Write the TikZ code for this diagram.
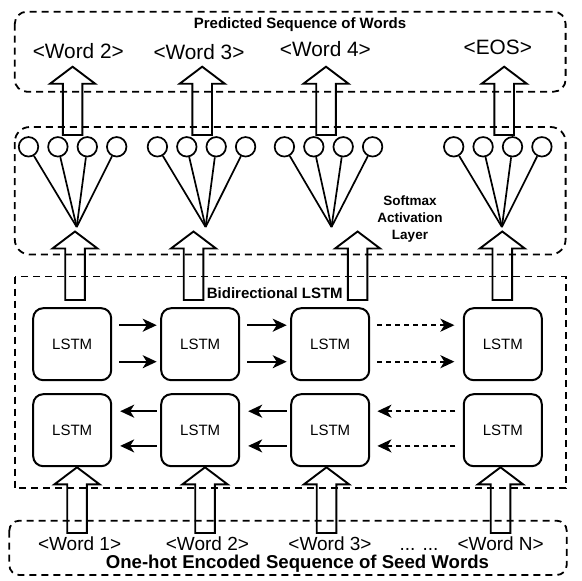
\documentclass[tikz,border=0pt]{standalone}
\usepackage{fontspec}
\setmainfont{Liberation Sans}
\usetikzlibrary{arrows.meta,positioning}

\tikzset{
  grpbox/.style={draw, line width=1.8pt, dash pattern=on 7pt off 5pt},
  lstm/.style={draw, line width=2pt, rounded corners=10pt, minimum width=78pt,
    minimum height=72pt, inner sep=0pt, font=\fontsize{15}{18}\selectfont},
  unit/.style={draw, circle, line width=1.7pt, minimum size=19.5pt, inner sep=0pt},
  flow/.style={line width=2pt, -{Stealth[length=14pt,width=13pt,inset=4pt]}},
  dflow/.style={flow, dash pattern=on 5pt off 4pt},
  fatarrow/.style={draw, line width=1.9pt, line join=miter},
  bigword/.style={anchor=base, inner sep=0pt, font=\fontsize{20.8}{25}\selectfont},
  seedword/.style={anchor=base, inner sep=0pt, font=\fontsize{19}{23}\selectfont},
  caption/.style={anchor=base, inner sep=0pt, font=\bfseries\fontsize{15}{18}\selectfont}
}

\begin{document}
\begin{tikzpicture}[x=1pt, y=-1pt]
  \useasboundingbox (0,0) rectangle (582,581);
  \def\hw{22.5}
  \def\sw{9.8}
  \def\hl{17}

  % group boxes
  \draw[grpbox, rounded corners=12pt] (14.8,11.7) rectangle (565.6,91.7);
  \draw[grpbox, rounded corners=15pt] (14.8,127) rectangle (565.6,254.5);
  \draw[grpbox] (14.8,276.5) rectangle (565.6,488.3);
  \draw[grpbox, rounded corners=10pt] (9.3,520.7) rectangle (566.7,575);

  % labels
  \node[caption] (pred) at (300,28.5) {Predicted Sequence of Words};
  \node[caption] (bidi) at (274.8,298) {Bidirectional LSTM};
  \node[align=center, inner sep=0pt, font=\bfseries\fontsize{13.5}{17}\selectfont] (soft) at (410,219.5) {Softmax\\Activation\\Layer};
  \node[anchor=base, inner sep=0pt, font=\bfseries\fontsize{18.6}{22}\selectfont] (seed) at (297.4,568.5) {One-hot Encoded Sequence of Seed Words};

  \node[bigword] (o1) at (78.3,58.8) {<Word 2>};
  \node[bigword] (o2) at (199,59.1) {<Word 3>};
  \node[bigword] (o3) at (325.4,56.4) {<Word 4>};
  \node[bigword] (o4) at (497.8,54.4) {<EOS>};

  \node[seedword] (w1) at (79.6,550.5) {<Word 1>};
  \node[seedword] (w2) at (207.4,550.5) {<Word 2>};
  \node[seedword] (w3) at (330,550.5) {<Word 3>};
  \node[seedword] (wd) at (419,550.5) {... ...};
  \node[seedword] (w4) at (500.7,550.5) {<Word N>};

  % lstm cells
  \node[lstm] (f1) at (72.2,344.2) {LSTM};
  \node[lstm, right=48pt of f1] (f2) {LSTM};
  \node[lstm, right=50pt of f2] (f3) {LSTM};
  \node[lstm, right=92.6pt of f3] (f4) {LSTM};
  \foreach \i in {1,...,4}
    \node[lstm, below=12pt of f\i] (b\i) {LSTM};

  \foreach \a/\b in {f1/f2, f2/f3}{
    \draw[flow, shorten <=7pt, shorten >=3.5pt] ([yshift=19pt]\a.east) -- ([yshift=19pt]\b.west);
    \draw[flow, shorten <=7pt, shorten >=3.5pt] ([yshift=-17.5pt]\a.east) -- ([yshift=-17.5pt]\b.west);
  }
  \draw[dflow, shorten <=7pt, shorten >=8.4pt] ([yshift=19pt]f3.east) -- ([yshift=19pt]f4.west);
  \draw[dflow, shorten <=7pt, shorten >=8.4pt] ([yshift=-17.5pt]f3.east) -- ([yshift=-17.5pt]f4.west);
  \foreach \a/\b in {b2/b1, b3/b2}{
    \draw[flow, shorten <=3.7pt, shorten >=8pt] ([yshift=19pt]\a.west) -- ([yshift=19pt]\b.east);
    \draw[flow, shorten <=3.7pt, shorten >=8pt] ([yshift=-15.7pt]\a.west) -- ([yshift=-15.7pt]\b.east);
  }
  \draw[dflow, shorten <=7.4pt, shorten >=7.2pt] ([yshift=19pt]b4.west) -- ([yshift=19pt]b3.east);
  \draw[dflow, shorten <=7.4pt, shorten >=7.2pt] ([yshift=-15.7pt]b4.west) -- ([yshift=-15.7pt]b3.east);

  % softmax units
  \foreach \g/\cx/\px in {1/28.5/76.7, 2/157.4/205.6, 3/284.4/331.5, 4/453.7/501.9}{
    \coordinate (p\g) at (\px,227);
    \foreach \i in {1,...,4}{
      \node[unit] (c\g\i) at (\cx+29.4*\i-29.4,146.8) {};
      \draw[line width=1.7pt] (c\g\i) -- (p\g);
    }
  }

  % block arrows
  \foreach \cx/\ty/\by in {72.6/66.7/135, 202.2/66.7/135, 326/66.7/135, 504.2/66.7/135,
      75/231.5/300, 193.5/231.5/300, 357.6/231.5/300, 502.3/231.5/300,
      77/467.3/533, 205/467.3/533, 326.5/467.3/533, 500.5/467.3/533}
    \draw[fatarrow] (\cx-\sw,\by) -- (\cx-\sw,\ty+\hl) -- (\cx-\hw,\ty+\hl) -- (\cx,\ty)
      -- (\cx+\hw,\ty+\hl) -- (\cx+\sw,\ty+\hl) -- (\cx+\sw,\by) -- cycle;
\end{tikzpicture}
\end{document}
